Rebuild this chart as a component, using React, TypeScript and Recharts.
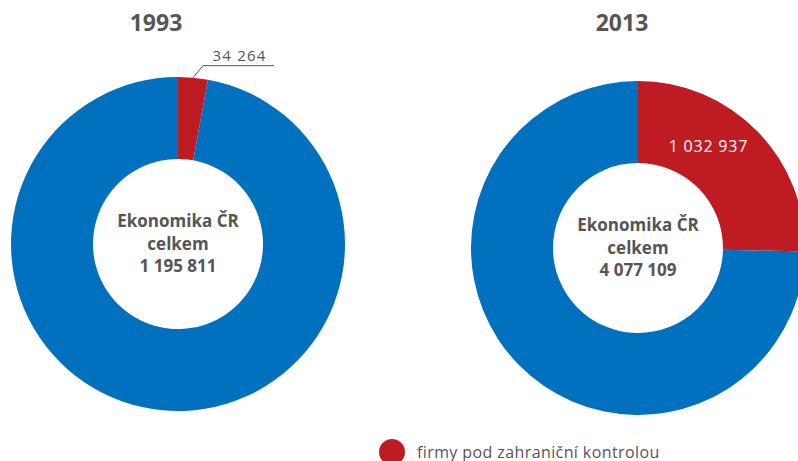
import React from 'react';
import { PieChart, Pie, Cell, Legend } from 'recharts';

const years = ['1993', '2013'];
const totals = [1195811, 4077109];
const foreign = [34264, 1032937];
const seriesNames = ['firmy pod zahraniční kontrolou', 'ostatní'];
const centerTitle = ['Ekonomika ČR', 'celkem'];

const RED = '#BE1B22';
const BLUE = '#0070BF';
const GRAY = '#555555';
const FONT = '"Open Sans", "DejaVu Sans", sans-serif';

const fmt = (n: number) => n.toString().replace(/\B(?=(\d{3})+(?!\d))/g, ' ');

const buildData = (i: number) => [
  { name: seriesNames[0], value: foreign[i] },
  { name: seriesNames[1], value: totals[i] - foreign[i] },
];

const RAD = Math.PI / 180;

const outsideLabel = (props: any) => {
  const { cx, cy, midAngle, outerRadius, index, value } = props;
  if (index !== 0) return null;
  const x0 = cx + outerRadius * Math.cos(-midAngle * RAD);
  const y0 = cy + outerRadius * Math.sin(-midAngle * RAD);
  const x1 = x0 + 10;
  const y1 = y0 - 12;
  const x2 = x1 + 71;
  return (
    <g>
      <polyline points={`${x0},${y0} ${x1},${y1} ${x2},${y1}`} fill="none" stroke={GRAY} strokeWidth={1} />
      <text x={(x1 + x2) / 2 + 1} y={y1 - 5} textAnchor="middle" fill={GRAY} fontSize={15} fontFamily={FONT} letterSpacing={1.2}>
        {fmt(value)}
      </text>
    </g>
  );
};

const insideLabel = (props: any) => {
  const { cx, cy, midAngle, index, value } = props;
  if (index !== 0) return null;
  const r = 124;
  const a = midAngle + 11;
  const x = cx + r * Math.cos(-a * RAD);
  const y = cy + r * Math.sin(-a * RAD);
  return (
    <text x={x} y={y} textAnchor="middle" dominantBaseline="central" fill="#fff" fontSize={16} fontFamily={FONT} letterSpacing={0.8}>
      {fmt(value)}
    </text>
  );
};

const legendContent = () => (
  <div style={{ display: 'flex', alignItems: 'center', fontFamily: FONT, fontSize: 16, color: GRAY }}>
    <svg width={28} height={28} style={{ marginRight: 11 }}>
      <circle cx={14} cy={14} r={13} fill={RED} />
    </svg>
    <span style={{ letterSpacing: 0.4 }}>{seriesNames[0]}</span>
  </div>
);

export default function App() {
  const centers = [
    { cx: 178, cy: 244 },
    { cx: 638, cy: 248 },
  ];
  return (
    <div style={{ position: 'absolute', left: 0, top: 0, width: 798, height: 461, background: '#fff', overflow: 'hidden' }}>
      <PieChart width={798} height={461} margin={{ top: 0, right: 0, bottom: 0, left: 0 }}>
        {years.map((y, i) => (
          <text key={y} x={i === 0 ? 156 : 622} y={31} textAnchor="middle" fill={GRAY} fontSize={23} fontWeight="bold" fontFamily={FONT}>
            {y}
          </text>
        ))}
        {years.map((y, i) => (
          <Pie
            key={'pie' + y}
            data={buildData(i)}
            dataKey="value"
            nameKey="name"
            cx={centers[i].cx}
            cy={centers[i].cy}
            innerRadius={85}
            outerRadius={167}
            startAngle={90}
            endAngle={-270}
            stroke="none"
            isAnimationActive={false}
            labelLine={false}
            label={i === 0 ? outsideLabel : insideLabel}
          >
            <Cell fill={RED} />
            <Cell fill={BLUE} />
          </Pie>
        ))}
        {years.map((y, i) => (
          <text key={'c' + y} textAnchor="middle" fill={GRAY} fontSize={17} fontWeight="bold" fontFamily={FONT}>
            <tspan x={centers[i].cx} y={centers[i].cy - 17}>{centerTitle[0]}</tspan>
            <tspan x={centers[i].cx} y={centers[i].cy + 6}>{centerTitle[1]}</tspan>
            <tspan x={centers[i].cx} y={centers[i].cy + 28}>{fmt(totals[i])}</tspan>
          </text>
        ))}
        <Legend
          content={legendContent}
          wrapperStyle={{ position: 'absolute', left: 378, top: 438, width: 320 }}
        />
      </PieChart>
    </div>
  );
}
